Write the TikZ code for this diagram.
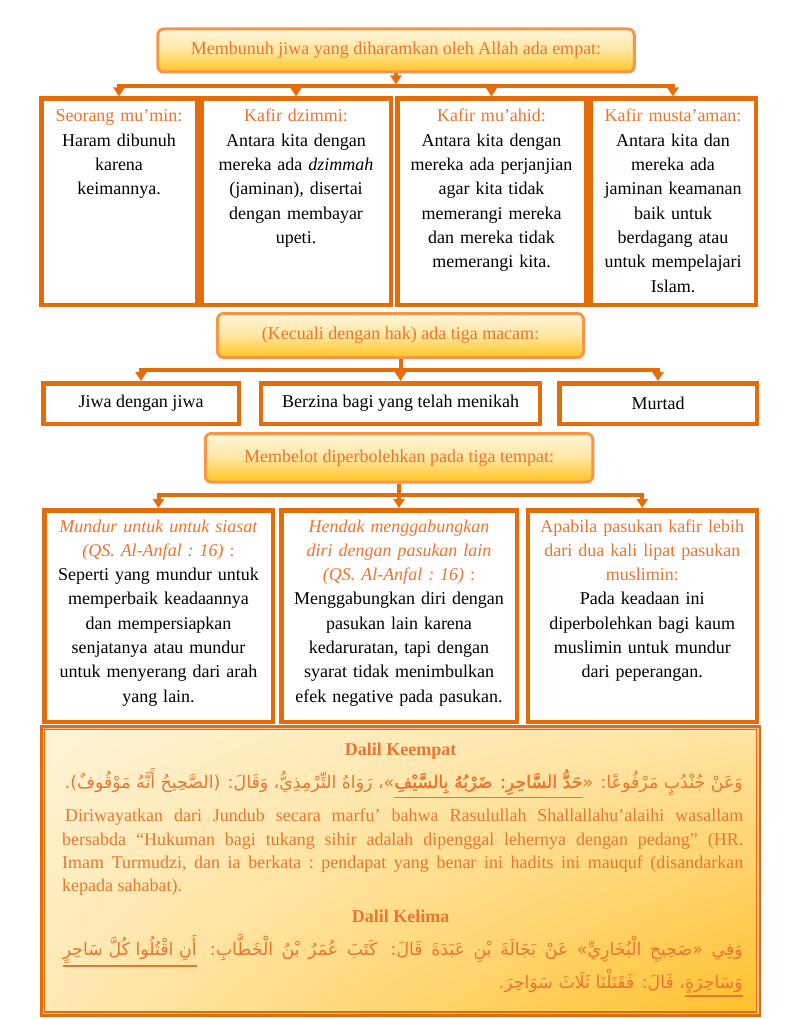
\documentclass[tikz,border=0pt]{standalone}
\usepackage{fontspec}
\setmainfont{Liberation Serif}
\newfontfamily\arabicfont[Script=Arabic]{DejaVu Sans}
\newfontfamily\arabicbold[Script=Arabic,FakeBold=2]{DejaVu Sans}
\TeXXeTstate=1
\usetikzlibrary{arrows.meta,shadings}
\definecolor{dor}{HTML}{E46C0A}
\definecolor{tor}{HTML}{EA7430}
\definecolor{rb}{HTML}{F79646}
\definecolor{ftop}{HTML}{FFF5DA}
\definecolor{fmid}{HTML}{FFE6A0}
\definecolor{fbot}{HTML}{FFC420}
\definecolor{stripe}{HTML}{F8C49A}
\definecolor{bul}{HTML}{FFF3D4}
\definecolor{bur}{HTML}{FFE3A2}
\definecolor{bll}{HTML}{FFE9B4}
\definecolor{blr}{HTML}{FFC02A}
\newcommand\fs{\fontsize{18pt}{24.3pt}\selectfont\frenchspacing}
\newcommand\arsz{\fontsize{17.4pt}{22pt}\selectfont}
\newcommand\arul[1]{{\setbox0\hbox{\beginR#1\endR}\vtop{\copy0\kern2pt\hrule height 1.5pt}}}
\begin{document}
\begin{tikzpicture}[x=1pt,y=-1pt,
  rbox/.style={draw=rb,line width=3pt,rounded corners=6pt,top color=ftop,bottom color=fbot,middle color=fmid,inner sep=0pt,text=tor,font=\fs},
  cell/.style={draw=dor,line width=4.5pt,fill=white,inner sep=0pt,font=\fs},
  ctext/.style={text width=#1,align=center,inner sep=0pt,anchor=base,font=\fs},
  conn/.style={draw=dor,line width=4pt},
  arr/.style={-{Triangle[width=11pt,length=9pt]}},
  bigbox/.style={draw=dor,line width=5pt,inner sep=0pt,upper left=bul,upper right=bur,lower left=bll,lower right=blr},
  artext/.style={inner sep=0pt,text=tor,font=\arsz\arabicfont}
]
\fill[white] (0,0) rectangle (787,1019);
\useasboundingbox (0,0) rectangle (787,1019);

% ---- row 1
\node[rbox,minimum width=476.5pt,minimum height=43pt] (h1) at (396,50.5) {Membunuh jiwa yang diharamkan oleh Allah ada empat:};
\node[cell,minimum width=155.5pt,minimum height=206pt] (b1) at (119,201.75) {};
\node[cell,minimum width=189.5pt,minimum height=206pt] (b2) at (296,201.75) {};
\node[cell,minimum width=188.5pt,minimum height=206pt] (b3) at (491.5,201.75) {};
\node[cell,minimum width=165.5pt,minimum height=206pt] (b4) at (673,201.75) {};
\node[ctext=150pt] (b1t) at (119,122) {\textcolor{tor}{Seorang mu’min:}\\Haram dibunuh\\karena\\keimannya.};
\node[ctext=184pt] (b2t) at (296,122) {\textcolor{tor}{Kafir dzimmi:}\\Antara kita dengan\\mereka ada \textit{dzimmah}\\(jaminan), disertai\\dengan membayar\\upeti.};
\node[ctext=183pt] (b3t) at (491.5,122) {\textcolor{tor}{Kafir mu’ahid:}\\Antara kita dengan\\mereka ada perjanjian\\agar kita tidak\\memerangi mereka\\dan mereka tidak\\memerangi kita.};
\node[ctext=160pt] (b4t) at (673,122) {\textcolor{tor}{Kafir musta’aman:}\\Antara kita dan\\mereka ada\\jaminan keamanan\\baik untuk\\berdagang atau\\untuk mempelajari\\Islam.};
\coordinate (j1) at (396,86.5);
\draw[conn,arr,shorten >=2pt] (h1.south) -- (j1);
\draw[conn,arr] (j1) -| (b1.north);
\draw[conn,arr] (j1) -| (b2.north);
\draw[conn,arr] (j1) -| (b3.north);
\draw[conn,arr] (j1) -| (b4.north);

% ---- row 2
\node[rbox,minimum width=366pt,minimum height=44pt] (h2) at (400.5,335.5) {(Kecuali dengan hak) ada tiga macam:};
\node[cell,minimum width=195.5pt,minimum height=40.5pt] (c1) at (141,403.5) {Jiwa dengan jiwa};
\node[cell,minimum width=279pt,minimum height=40.5pt] (c2) at (400.5,403.5) {Berzina bagi yang telah menikah};
\node[cell,minimum width=197.5pt,minimum height=40.5pt] (c3) at (658,403.5) {Murtad};
\coordinate (j2) at (400.5,369.5);
\draw[conn,arr] (h2.south) -- (c2.north);
\draw[conn,arr] (j2) -| (c1.north);
\draw[conn,arr] (j2) -| (c3.north);

% ---- row 3
\node[rbox,minimum width=387.5pt,minimum height=48.5pt] (h3) at (399,457.75) {Membelot diperbolehkan pada tiga tempat:};
\node[cell,minimum width=228.5pt,minimum height=211.5pt] (d1) at (158.5,616) {};
\node[cell,minimum width=235.5pt,minimum height=211.5pt] (d2) at (399,616) {};
\node[cell,minimum width=229pt,minimum height=211.5pt] (d3) at (642.25,616) {};
\node[ctext=222pt] (d1t) at (158.5,532) {\textcolor{tor}{\textit{Mundur untuk untuk siasat}}\\\textcolor{tor}{\textit{(QS. Al-Anfal : 16)} :}\\Seperti yang mundur untuk\\memperbaik keadaannya\\dan mempersiapkan\\senjatanya atau mundur\\untuk menyerang dari arah\\yang lain.};
\node[ctext=229pt] (d2t) at (399,532) {\textcolor{tor}{\textit{Hendak menggabungkan}}\\\textcolor{tor}{\textit{diri dengan pasukan lain}}\\\textcolor{tor}{\textit{(QS. Al-Anfal : 16)} :}\\Menggabungkan diri dengan\\pasukan lain karena\\kedaruratan, tapi dengan\\syarat tidak menimbulkan\\efek negative pada pasukan.};
\node[ctext=223pt] (d3t) at (642.25,532) {\textcolor{tor}{Apabila pasukan kafir lebih}\\\textcolor{tor}{dari dua kali lipat pasukan}\\\textcolor{tor}{muslimin:}\\Pada keadaan ini\\diperbolehkan bagi kaum\\muslimin untuk mundur\\dari peperangan.};
\coordinate (j3) at (399,495);
\draw[conn,arr] (h3.south) -- (d2.north);
\draw[conn,arr] (j3) -| (d1.north);
\draw[conn,arr] (j3) -| (d3.north);

% ---- big box
\node[bigbox,minimum width=716pt,minimum height=286.5pt] (big) at (400.5,870.75) {};
\draw[stripe,line width=1.5pt] ([xshift=3.25pt,yshift=-3.25pt]big.north west) rectangle ([xshift=-3.25pt,yshift=3.25pt]big.south east);
\draw[dor,line width=1pt] ([xshift=4.7pt,yshift=-4.7pt]big.north west) rectangle ([xshift=-4.7pt,yshift=4.7pt]big.south east);
\node[inner sep=0pt,anchor=base,text=tor,font=\fs\bfseries] (dk1) at (400.5,755) {Dalil Keempat};
\node[artext,anchor=base east] (ara) at (743,788) {\hbox to 678pt{\beginR وَعَنْ جُنْدُبٍ مَرْفُوعًا: «\arul{\arabicbold حَدُّ السَّاحِرِ: ضَرْبُهُ بِالسَّيْفِ}»، رَوَاهُ التِّرْمِذِيُّ، وَقَالَ: (الصَّحِيحُ أَنَّهُ مَوْقُوفٌ).\endR}};
\node[inner sep=0pt,anchor=base west,text width=681pt,align=justify,text=tor,font=\fontsize{18pt}{23.3pt}\selectfont\frenchspacing] (par) at (62,821.7) {\hspace{3pt}Diriwayatkan dari Jundub secara marfu’ bahwa Rasulullah Shallallahu’alaihi wasallam\linebreak bersabda “Hukuman bagi tukang sihir adalah dipenggal lehernya dengan pedang” (HR.\linebreak Imam Turmudzi, dan ia berkata : pendapat yang benar ini hadits ini mauquf (disandarkan\linebreak kepada sahabat).};
\node[inner sep=0pt,anchor=base,text=tor,font=\fs\bfseries] (dk2) at (400.5,922.7) {Dalil Kelima};
\node[artext,anchor=base east] (arb1) at (743,955) {\hbox to 680pt{\beginR وَفِي «صَحِيحِ الْبُخَارِيِّ» عَنْ بَجَالَةَ بْنِ عَبَدَةَ قَالَ: كَتَبَ عُمَرُ بْنُ الْخَطَّابِ: \arul{أَنِ اقْتُلُوا كُلَّ سَاحِرٍ}\endR}};
\node[artext,anchor=base east] (arb2) at (743,988) {\beginR\arul{وَسَاحِرَةٍ}، قَالَ: فَقَتَلْنَا ثَلَاثَ سَوَاحِرَ.\endR};
\end{tikzpicture}
\end{document}
